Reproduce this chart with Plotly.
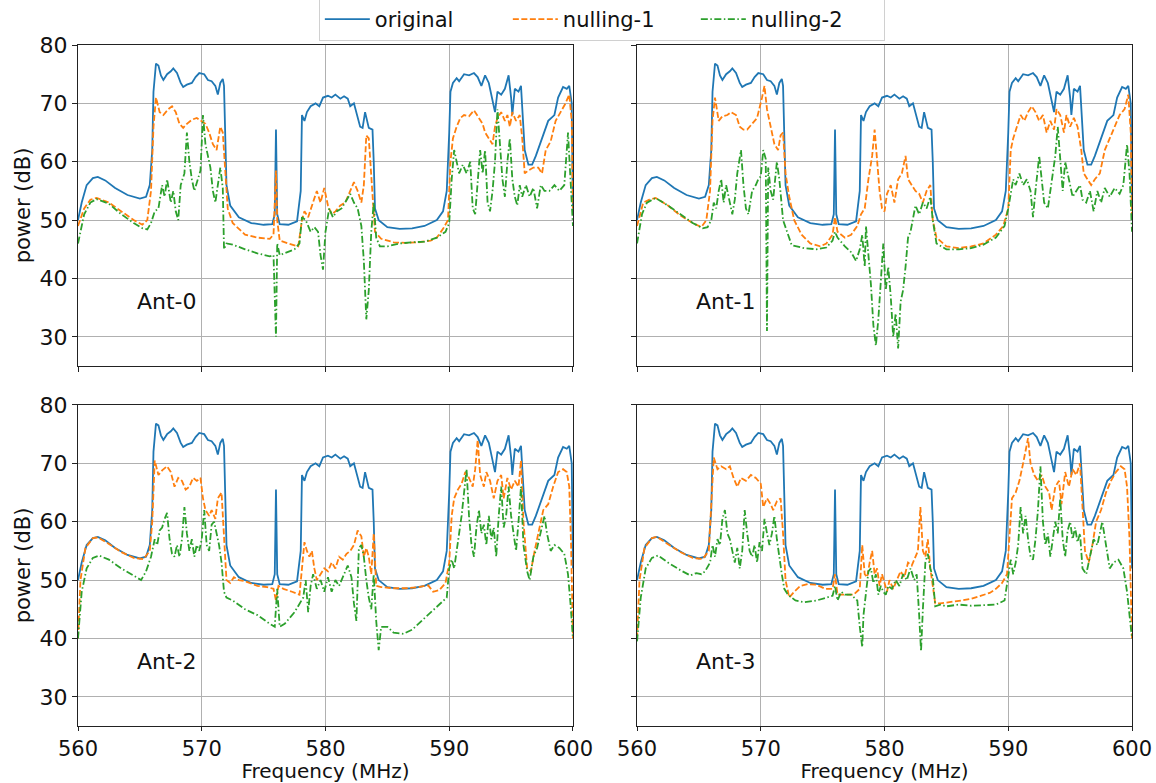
import plotly.graph_objects as go
from plotly.subplots import make_subplots

# ---------------- data (frequency MHz, power dB) ----------------
original = [(560,50),(560.3,53),(560.7,56),(561.2,57.2),(561.6,57.4),(562.2,56.8),(563,55.5),(564,54.3),(565,53.7),(565.5,54),
    (565.8,56),(566.0,62),(566.1,72),(566.3,76.8),(566.5,76.5),(566.7,74.8),(566.9,74),(567.2,75),(567.5,75.5),(567.7,76),
    (568,75.2),(568.3,73.5),(568.5,72.8),(568.8,73.2),(569.2,73.5),(569.5,74.5),(569.8,75.2),(570.2,75),(570.5,74),(570.8,73.8),
    (571.1,73),(571.3,71.5),(571.5,73.5),(571.7,74.2),(571.8,73),(571.9,62),(572.0,56),(572.3,52.5),(573,50.5),(574,49.5),
    (575,49.2),(575.7,49.3),(575.9,51),(576.0,65.5),(576.1,51),(576.3,49.3),(577,49.2),(577.7,49.8),(578.0,55),(578.1,68),
    (578.3,67),(578.5,68.5),(578.8,69.5),(579.2,70),(579.5,69.5),(579.8,71),(580.2,71.3),(580.5,71),(580.8,71.5),(581.2,70.8),
    (581.5,71.2),(581.8,70.8),(582.0,69.5),(582.3,70),(582.5,68.5),(582.8,66),(583.0,65.8),(583.2,68.5),(583.5,65.8),(583.8,65.5),
    (583.9,60),(584.0,52),(584.3,50),(585,48.8),(586,48.5),(587,48.6),(588,49),(589,50),(589.5,51.5),(589.8,55),
    (590.0,65),(590.1,72),(590.3,73.5),(590.6,74.3),(590.8,73.8),(591.2,75),(591.6,74.8),(592.0,75.2),(592.3,74.5),(592.6,73),
    (592.9,74.8),(593.2,73.5),(593.5,70.5),(593.7,68.5),(593.9,72),(594.2,71.5),(594.5,72.5),(594.8,74.8),(595.0,71),(595.1,68),
    (595.3,72.5),(595.6,72),(595.8,73),(595.9,69),(596.1,62),(596.4,59.5),(596.7,59.5),(597,61),(597.5,64),(598,67),
    (598.5,68),(598.8,71),(599.2,72.8),(599.5,72.5),(599.7,73),(599.9,70),(600,52)]

ant0_null1 = [(560,49),(560.5,52),(561,53.5),(561.5,53.8),(562.5,53),(563.5,51.5),(564.5,50),(565.2,49.2),(565.6,50),(565.9,55),
    (566.1,66),(566.3,71),(566.6,68.5),(566.9,68),(567.3,69),(567.6,69.5),(567.9,68.5),(568.2,66.5),(568.5,65.8),(568.8,66.5),
    (569.2,67.2),(569.6,67.5),(570,67),(570.3,66.5),(570.6,65),(570.9,63),(571.2,62),(571.5,66),(571.7,65),(571.9,58),
    (572.1,52),(572.5,49.5),(573.5,47.5),(574.5,47),(575.5,46.8),(575.8,47.5),(576.0,58.5),(576.1,50),(576.3,46.5),(577,46),
    (577.8,45.5),(578.1,50),(578.3,51.5),(578.6,50.5),(579,53),(579.3,55),(579.6,53),(579.9,55.5),(580.2,52.5),(580.5,51),
    (580.8,51.5),(581.2,52.5),(581.6,53),(582,55),(582.3,56.5),(582.6,55),(582.9,53),(583.1,56),(583.3,64.5),(583.5,64),
    (583.8,55),(584.0,48),(584.5,46.8),(585.5,46.2),(586.5,46.1),(587.5,46.2),(588.5,46.5),(589,47),(589.5,48.5),(589.9,50),
    (590.1,60),(590.3,64),(590.6,66),(590.9,67.5),(591.2,68),(591.6,67.8),(592,68.8),(592.4,67.5),(592.7,66.5),(592.9,65),
    (593.2,64),(593.5,63),(593.7,66),(593.9,67.5),(594.2,68.5),(594.5,67),(594.7,68),(594.9,66),(595.1,68.5),(595.4,67),
    (595.7,68),(595.9,64),(596.1,58),(596.4,58.5),(596.8,59),(597.2,59),(597.5,58),(597.8,62),(598.2,63.5),(598.6,67),
    (599,68.5),(599.4,70),(599.7,71.5),(599.9,67),(600,52)]

ant0_null2 = [(560,46),(560.5,51),(561,53),(561.5,53.6),(562.5,52.8),(563.5,51),(564.5,49.5),(565.2,48.6),(565.6,48.4),(565.9,49.5),
    (566.2,51.5),(566.5,52),(566.8,56),(567,54),(567.2,57),(567.5,53),(567.7,55),(567.9,51.5),(568.1,50),(568.3,56),
    (568.6,58),(568.8,65),(569,60),(569.2,57),(569.4,55),(569.7,57),(569.9,58.5),(570.1,68),(570.3,63),(570.5,61),
    (570.7,59),(570.9,55),(571.1,53),(571.3,56),(571.5,59),(571.7,55.5),(571.8,45),(572,46),(572.5,45.8),(573.5,45),
    (574.5,44.3),(575.5,43.8),(575.8,44),(576.0,30),(576.1,46),(576.3,44),(577.5,45),(577.9,46),(578.1,50.5),(578.4,50),
    (578.6,49),(578.8,48),(579.1,48.8),(579.4,48),(579.6,44),(579.8,41.5),(580,48),(580.3,52),(580.6,50.5),(580.9,51.5),
    (581.3,52),(581.7,53.5),(582,54.5),(582.3,53),(582.6,52),(582.9,49),(583.1,43),(583.3,33),(583.5,38),(583.7,48),
    (583.9,53),(584.1,47),(584.4,45.5),(585,45.5),(586,46),(587,46.2),(588,46.3),(589,47),(589.7,48),(590,49.5),
    (590.2,57),(590.4,62),(590.6,60),(590.8,58),(591.1,59.5),(591.4,58),(591.7,60),(591.9,52),(592.1,51),(592.3,56),
    (592.5,62),(592.7,58),(592.9,62),(593.1,53),(593.3,51.5),(593.5,55),(593.7,60),(593.9,69),(594.1,62),(594.3,57),
    (594.5,54),(594.7,60),(594.9,64),(595.1,57),(595.3,54),(595.5,52.5),(595.7,56),(595.9,54),(596.2,56),(596.5,54),
    (596.8,55.5),(597.1,52),(597.4,56),(597.7,55),(598.1,55),(598.5,56),(598.9,55),(599.3,56),(599.6,65),(599.8,58),(600,49)]

ant1_null1 = [(560,49),(560.5,53),(561,53.5),(561.5,53.8),(562.5,52.5),(563.5,50.8),(564.5,49.5),(565.2,48.8),(565.6,50),(565.9,55),
    (566.1,67),(566.3,71),(566.6,67),(566.9,67.8),(567.3,68),(567.6,68.5),(568,68),(568.3,66),(568.6,65.5),(568.9,65.5),
    (569.3,66.5),(569.7,67.5),(570.1,71),(570.3,73),(570.5,69),(570.8,66),(571.1,63),(571.4,62),(571.6,64.5),(571.8,65),
    (572,58),(572.3,54),(572.7,50),(573.3,47.5),(574,46),(574.8,45.5),(575.3,46),(575.8,47.5),(576.0,50.5),(576.2,48),
    (576.8,47),(577.3,47.5),(577.8,49),(578.1,51),(578.4,52),(578.7,57),(579,61),(579.2,65.5),(579.4,60),(579.6,55),
    (579.8,52),(580,51.5),(580.2,54.5),(580.5,56),(580.8,53),(581.1,57),(581.4,58),(581.7,61),(581.9,57),(582.2,56),
    (582.5,55),(582.8,54.5),(583.1,53),(583.4,55),(583.7,56),(583.9,50),(584.2,47),(585,45.5),(586,45.2),(587,45.5),
    (588,46),(589,47.5),(589.6,49),(590,52),(590.2,62),(590.4,64),(590.7,66),(591,68),(591.3,67),(591.6,68.5),
    (591.9,69.5),(592.2,68.5),(592.5,67),(592.8,68),(593.1,65),(593.4,67),(593.7,65.5),(593.9,69),(594.2,68),(594.5,65),
    (594.7,68),(595,66),(595.3,67.5),(595.6,66),(595.9,62),(596.1,58),(596.4,57),(596.7,56),(597,57),(597.4,58),
    (597.8,62),(598.2,64),(598.6,66),(599,68),(599.4,69),(599.7,71.5),(599.9,65),(600,50)]

ant1_null2 = [(560,46),(560.4,51),(560.8,53),(561.5,53.8),(562.5,52.5),(563.5,51),(564.5,49.5),(565.3,48.6),(565.7,48.8),(566.0,50),
    (566.2,53),(566.4,52),(566.6,55),(566.8,57),(567.0,53),(567.2,56),(567.4,54),(567.7,51),(567.9,53.5),(568.1,58),
    (568.4,62),(568.6,56),(568.8,52),(569.0,51),(569.3,55),(569.6,56),(569.8,57),(570.0,57.5),(570.2,62),(570.4,60.5),
    (570.5,31),(570.6,59),(570.8,55),(571.0,53.5),(571.3,60),(571.5,57),(571.8,50),(572.1,48),(572.5,45.7),(573.5,45.2),
    (574.5,45),(575.3,45.3),(575.8,46.5),(576.0,48),(576.2,47),(576.8,45.5),(577.3,44.5),(577.7,43),(578.0,45),(578.2,47.5),
    (578.4,42),(578.5,49),(578.7,44),(578.9,39),(579.1,32),(579.3,28.5),(579.5,33),(579.7,40),(579.9,46),(580.1,38),
    (580.3,42),(580.5,37),(580.7,30),(580.9,34),(581.1,28),(581.3,36),(581.5,38),(581.7,42),(581.9,47),(582.1,48),
    (582.3,50),(582.5,52.5),(582.8,51),(583.1,53),(583.4,52),(583.7,54),(583.9,50),(584.2,46),(585,45),(586,45),
    (587,45.2),(588,45.8),(589,47),(589.7,49),(590,52),(590.2,54.5),(590.4,57),(590.6,56),(590.9,58),(591.2,56),
    (591.5,57),(591.8,55),(592,50.5),(592.2,55),(592.5,61),(592.7,57),(592.9,53),(593.2,52),(593.5,57),(593.8,61),
    (594.0,66),(594.2,60),(594.4,55),(594.6,60),(594.8,58),(595.0,56),(595.2,54),(595.5,55),(595.8,56),(596.0,53.5),
    (596.3,53),(596.6,55),(596.9,51.5),(597.2,55),(597.5,53),(597.8,55.5),(598.2,54),(598.6,55.5),(599,54.5),(599.3,56),
    (599.6,63),(599.8,58),(600,48)]

ant2_null1 = [(560,40),(560.2,50),(560.6,55.5),(561.2,57.2),(561.6,57.3),(562.5,56.2),(563.5,54.8),(564.5,53.8),(565.3,53.6),(565.8,55),
    (566.0,60),(566.2,70.5),(566.5,68),(566.8,68.8),(567.2,69.5),(567.5,68.5),(567.8,66),(568.1,67.5),(568.4,67),(568.7,65.5),
    (569.0,66),(569.3,67.5),(569.6,67),(569.9,67.5),(570.1,64),(570.3,62),(570.6,61),(570.8,62),(571.1,60.5),(571.3,64),
    (571.6,65),(571.8,58),(572.0,50),(572.3,49.5),(572.6,50.5),(573,50),(573.5,49.8),(574.5,49),(575.3,48.8),(575.8,48.5),
    (576.0,46.5),(576.2,49),(576.6,48.5),(577.3,48),(577.9,47.5),(578.1,52),(578.3,56.5),(578.5,55),(578.7,54),(578.9,55),
    (579.1,52),(579.3,50),(579.6,51),(579.9,52),(580.2,51.5),(580.5,53),(580.8,52),(581.1,54),(581.4,53.5),(581.7,54.5),
    (582.0,55),(582.3,56),(582.6,58.5),(582.9,57.5),(583.1,54),(583.3,55.5),(583.5,54),(583.7,51),(583.9,58),(584.1,49),
    (584.5,48.8),(585.5,48.6),(586.5,48.6),(587.5,48.8),(588.3,49.1),(588.7,48),(589.2,48.3),(589.7,49.5),(590.0,53),(590.2,61),
    (590.4,64),(590.7,65.5),(591.0,66.5),(591.3,68.5),(591.6,67.5),(591.9,66),(592.1,69),(592.3,74),(592.5,68),(592.8,66),
    (593.0,68.5),(593.3,67),(593.6,64),(593.9,67),(594.2,68),(594.4,64),(594.7,67.5),(595.0,65.5),(595.3,67),(595.6,66),
    (595.8,70.5),(596.0,60),(596.3,52),(596.6,51.5),(596.9,55),(597.2,58),(597.6,62),(598.0,63),(598.4,66),(598.8,68.5),
    (599.2,69),(599.5,68.5),(599.7,66),(599.85,56),(600,40)]

ant2_null2 = [(560,40),(560.3,48),(560.7,52),(561.2,53.8),(561.7,54.2),(562.5,53.5),(563.5,52),(564.5,50.8),(565.1,50),(565.5,51.5),
    (565.9,54),(566.2,57),(566.4,56),(566.6,58.5),(566.8,59),(567.0,60.5),(567.2,61.5),(567.4,57),(567.6,54.5),(567.8,54),
    (568.0,56),(568.2,54),(568.4,57),(568.6,62.5),(568.8,58),(569.0,55),(569.2,57),(569.4,54),(569.6,56),(569.8,55),
    (570.0,57),(570.2,62),(570.4,56),(570.6,55),(570.8,59.5),(571.0,60),(571.2,58),(571.4,56),(571.6,53),(571.8,48),
    (572.0,47),(572.5,46.5),(573.5,45),(574.5,44),(575.5,42.5),(575.9,42),(576.1,48.5),(576.3,42),(576.7,42.5),(577.5,44.5),
    (578.2,47),(578.4,50),(578.6,44.5),(578.8,49),(579.0,51),(579.3,48.5),(579.6,50),(579.9,48),(580.2,50.5),(580.5,48),
    (580.8,50),(581.1,49),(581.5,51),(581.8,52.5),(582.1,50.5),(582.3,46),(582.5,43),(582.7,55.5),(582.9,56),(583.1,54),
    (583.3,50),(583.5,47),(583.7,45),(583.9,51),(584.1,43),(584.3,38),(584.5,42),(585,42),(585.5,41),(586.3,40.8),
    (587,41.5),(588,43.5),(589,45.5),(589.8,47),(590.0,52),(590.2,53.5),(590.4,52),(590.6,55),(590.8,58),(591.0,61),
    (591.2,65),(591.4,69),(591.6,61),(591.8,56),(592.0,54),(592.2,59),(592.4,62),(592.6,58),(592.8,59.5),(593.0,56),
    (593.2,61),(593.4,57),(593.6,59),(593.8,54),(594.0,61),(594.2,66),(594.4,59),(594.6,61),(594.8,66),(595.0,61),
    (595.2,58),(595.4,55),(595.6,60),(595.8,66),(596.0,56),(596.3,51.5),(596.5,50),(596.8,54),(597.1,55.5),(597.4,58),
    (597.7,61),(597.9,58),(598.2,55),(598.5,56),(598.9,55.5),(599.3,54.5),(599.6,51),(599.8,46),(600,40)]

ant3_null1 = [(560,40),(560.2,50),(560.6,55.5),(561.2,57.2),(561.6,57.4),(562.5,56.2),(563.5,54.8),(564.5,53.8),(565.3,53.6),(565.8,55),
    (566.0,62),(566.2,71),(566.5,69),(566.8,69.5),(567.2,69),(567.5,69.5),(567.8,67.5),(568.1,66),(568.4,67.5),(568.8,67),
    (569.2,68),(569.6,67.5),(570.0,66.5),(570.2,62.5),(570.5,64),(570.8,63),(571.0,62),(571.3,63.5),(571.6,64),(571.8,58),
    (572.0,50),(572.3,47),(572.7,48),(573.2,49),(573.8,49.3),(574.5,49.2),(575.2,48.5),(575.8,48.5),(576.0,51),(576.2,47.5),
    (576.8,47.5),(577.5,47.5),(578.0,48.5),(578.2,56),(578.4,51),(578.6,50.5),(578.8,53),(579.0,55),(579.2,51),(579.4,52),
    (579.6,49),(579.8,51),(580.0,49.5),(580.2,48),(580.4,50),(580.7,48.5),(581.0,50),(581.3,51.5),(581.6,50.5),(581.9,53),
    (582.2,52.5),(582.5,54),(582.7,55),(582.9,62.5),(583.1,55),(583.3,54),(583.5,57),(583.7,52),(583.9,49),(584.1,46),
    (584.5,46),(585.3,46.2),(586.2,46.5),(587,46.8),(587.8,47.3),(588.5,47.8),(589,48.5),(589.5,49.5),(589.9,51),(590.1,58),
    (590.3,64),(590.6,65),(590.9,67),(591.2,70),(591.4,72),(591.6,74.3),(591.8,70),(592.1,68),(592.4,67),(592.7,68),
    (593.0,66),(593.3,65),(593.5,62),(593.8,66),(594.1,67),(594.3,63),(594.6,68.5),(594.9,66),(595.2,69),(595.5,68),
    (595.8,70),(596.0,62),(596.2,55),(596.5,53),(596.8,56),(597.1,60),(597.5,62),(597.9,65),(598.3,67),(598.7,68.5),
    (599.1,69.5),(599.4,69),(599.6,66),(599.8,57),(600,40)]

ant3_null2 = [(560,39.5),(560.3,47),(560.7,52),(561.2,53.8),(561.7,54.2),(562.5,53),(563.5,51.7),(564.3,50.8),(564.8,51.2),(565.2,51),
    (565.5,51.5),(565.9,53),(566.1,56),(566.3,54),(566.5,57),(566.7,56),(566.9,60.5),(567.1,62),(567.3,58),(567.5,57),
    (567.7,55),(567.9,53),(568.1,55.5),(568.3,52),(568.5,55),(568.7,62),(568.9,58),(569.1,55),(569.3,54),(569.5,56),
    (569.7,53),(569.9,56.5),(570.1,55),(570.3,60.5),(570.5,58),(570.7,56),(570.9,58),(571.1,61),(571.3,57),(571.5,53.5),
    (571.7,51),(571.9,48.5),(572.2,47.5),(572.8,46.5),(573.5,46.2),(574.5,46.5),(575.3,47),(575.8,47.3),(576.0,49),(576.2,46.5),
    (576.5,48),(576.8,47.5),(577.3,47.5),(577.8,46.5),(578.0,42),(578.2,38.5),(578.3,44),(578.5,48),(578.7,51.5),(578.9,52),
    (579.1,49.5),(579.3,51),(579.5,47.5),(579.7,49),(579.9,48),(580.1,47.5),(580.3,49),(580.6,48.5),(580.9,50),(581.2,49),
    (581.5,51),(581.8,50),(582.1,52),(582.4,50),(582.6,51),(582.8,44),(582.95,37.8),(583.1,45),(583.3,53),(583.5,54.5),
    (583.7,52),(583.9,50.5),(584.1,45.5),(584.5,45.8),(585,45.5),(586,45.8),(587,45.6),(588,45.7),(589,45.8),(589.7,46.5),
    (590.0,51),(590.2,53.5),(590.4,51),(590.6,53),(590.8,56),(591.0,62.5),(591.2,58),(591.4,61),(591.6,57),(591.8,54),
    (592.0,53.5),(592.2,57),(592.4,62),(592.6,69.5),(592.8,60),(593.0,56),(593.2,58),(593.4,54),(593.6,57),(593.8,60),
    (594.0,58),(594.2,64),(594.4,57),(594.6,54),(594.8,58.5),(595.0,60),(595.2,57),(595.4,59),(595.6,56.5),(595.8,58),
    (596.0,52),(596.3,51),(596.6,54),(596.9,57),(597.2,56),(597.6,60),(597.9,56),(598.2,52),(598.5,53),(598.9,53.5),
    (599.3,52),(599.6,48),(599.8,44),(600,40)]

antenna_labels = ["Ant-0", "Ant-1", "Ant-2", "Ant-3"]
series_names = ["original", "nulling-1", "nulling-2"]
x_ticks = [560, 570, 580, 590, 600]
y_ticks = [30, 40, 50, 60, 70, 80]

panels = [
    (original, ant0_null1, ant0_null2),
    (original, ant1_null1, ant1_null2),
    (original, ant2_null1, ant2_null2),
    (original, ant3_null1, ant3_null2),
]

colors = ["#1f77b4", "#ff7f0e", "#2ca02c"]
dashes = ["solid", "6px,2.5px", "7px,2.5px,1.5px,2.5px"]

fig = make_subplots(rows=2, cols=2, shared_xaxes=True, shared_yaxes=True,
                    horizontal_spacing=0.0608, vertical_spacing=0.0572)

for k, series in enumerate(panels):
    r, c = k // 2 + 1, k % 2 + 1
    for s, data in enumerate(series):
        fx = [p[0] for p in data]
        fy = [p[1] for p in data]
        fig.add_trace(go.Scatter(x=fx, y=fy, mode="lines", name=series_names[s],
                                 line=dict(color=colors[s], width=1.8, dash=dashes[s]),
                                 showlegend=(k == 0)), row=r, col=c)
    fig.add_annotation(x=567.2, y=36, text=antenna_labels[k], showarrow=False,
                       font=dict(size=22, color="#111"), row=r, col=c)

axis_common = dict(showgrid=True, gridcolor="#b0b0b0", gridwidth=0.8, showline=True,
                   linecolor="#222", linewidth=1, mirror=True, ticks="outside",
                   ticklen=5, tickcolor="#222", zeroline=False,
                   tickfont=dict(size=22, color="#111"))

fig.update_xaxes(range=[560, 600], tickvals=x_ticks, **axis_common)
fig.update_yaxes(range=[25, 80], tickvals=y_ticks, **axis_common)
fig.update_xaxes(tickfont=dict(size=21, color="#111"), ticklen=4,
                 title=dict(text="Frequency (MHz)", font=dict(size=20, color="#111"), standoff=3), row=2)
fig.update_yaxes(title=dict(text="power (dB)", font=dict(size=21, color="#111"), standoff=3), col=1)

fig.update_layout(
    width=1156, height=783,
    margin=dict(l=78, r=24, t=45, b=57, autoexpand=False),
    paper_bgcolor="white", plot_bgcolor="white",
    font=dict(family="DejaVu Sans", color="#111"),
    legend=dict(orientation="h", x=0.497, xanchor="center", y=1.006, yanchor="bottom",
                yref="paper", bordercolor="#d0d0d0", borderwidth=1, bgcolor="white",
                font=dict(size=21), entrywidth=128, entrywidthmode="pixels",
                itemwidth=45, tracegroupgap=0),
)

fig.write_html("out.html", config={"displayModeBar": False},
               post_script="document.body.style.margin='0';document.body.style.padding='0';")
